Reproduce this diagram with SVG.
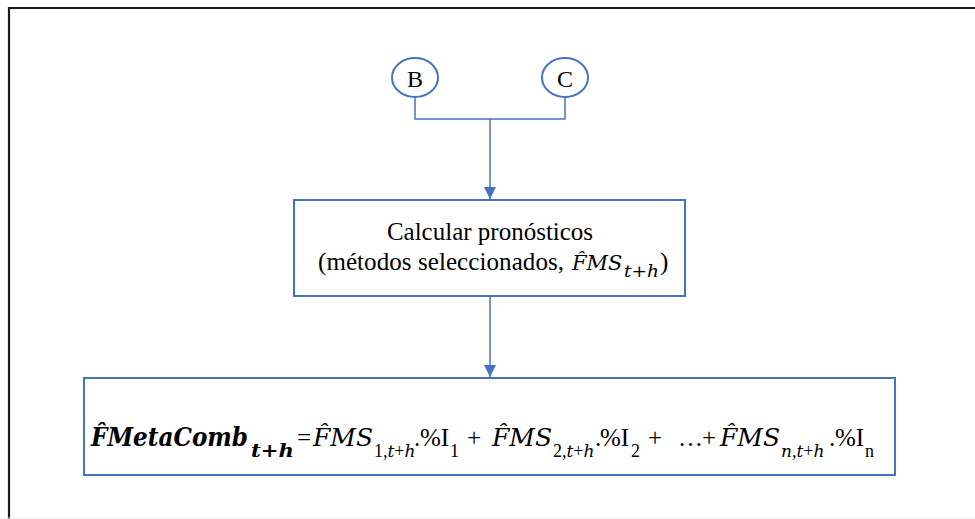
<svg xmlns="http://www.w3.org/2000/svg" width="975" height="519" viewBox="0 0 975 519">
  <defs>
    <marker id="arrow" viewBox="0 0 12 12" refX="12" refY="6" markerWidth="12" markerHeight="12" markerUnits="userSpaceOnUse" orient="auto">
      <path d="M0,0 L12,6 L0,12 Z" fill="#4472C4"/>
    </marker>
  </defs>
  <style>
    .node { fill: #ffffff; stroke: #4472C4; stroke-width: 2; }
    .conn { fill: none; stroke: #4472C4; stroke-width: 1.5; }
    .serif { font-family: "Liberation Serif", "Times New Roman", serif; fill: #000; }
    .math { font-family: "DejaVu Serif", "Liberation Serif", serif; font-style: italic; }
    .up { font-family: "Liberation Serif", "Times New Roman", serif; font-style: normal; }
    .bi { font-family: "DejaVu Serif", "Liberation Serif", serif; font-style: italic; font-weight: bold; }
  </style>

  <rect width="975" height="519" fill="#ffffff"/>
  <!-- outer frame -->
  <path d="M9,519 V8 H975" fill="none" stroke="#1a1a1a" stroke-width="2.2"/>
  <line x1="0" y1="518" x2="975" y2="518" stroke="#eeeeee" stroke-width="1"/>

  <!-- connectors -->
  <g id="connectors">
    <path class="conn" d="M415,97 V119 H565 V97"/>
    <line class="conn" x1="490" y1="119" x2="490" y2="199" marker-end="url(#arrow)"/>
    <line class="conn" x1="490" y1="296" x2="490" y2="377" marker-end="url(#arrow)"/>
  </g>

  <!-- connector B -->
  <g id="node-B">
    <ellipse class="node" cx="415" cy="77.5" rx="23" ry="19.5"/>
    <text class="serif" x="415" y="87" font-size="24" text-anchor="middle">B</text>
  </g>

  <!-- connector C -->
  <g id="node-C">
    <ellipse class="node" cx="565" cy="77.5" rx="23" ry="19.5"/>
    <text class="serif" x="565" y="87" font-size="24" text-anchor="middle">C</text>
  </g>

  <!-- forecast step -->
  <g id="node-calcular">
    <rect class="node" x="294" y="200" width="391" height="96"/>
    <text class="serif" x="490" y="240" font-size="25" text-anchor="middle">Calcular pronósticos</text>
    <text class="serif" font-size="25"><tspan x="318" y="270" textLength="246" lengthAdjust="spacing">(métodos seleccionados,</tspan><tspan class="math" x="572" y="270" font-size="21">F̂MS</tspan><tspan class="math" x="624" y="277" font-size="16" textLength="35" lengthAdjust="spacingAndGlyphs">t+h</tspan><tspan x="660" y="270">)</tspan></text>
  </g>

  <!-- combination formula -->
  <g id="node-metacomb">
    <rect class="node" x="84" y="378" width="811" height="97"/>
    <text class="serif" font-size="25"><tspan class="bi" x="91" y="446" font-size="26" textLength="157" lengthAdjust="spacingAndGlyphs">F̂MetaComb</tspan><tspan class="bi" x="251" y="457" font-size="19" textLength="43" lengthAdjust="spacingAndGlyphs">t+h</tspan><tspan x="297" y="446">=</tspan><tspan class="math" x="313" y="446">F̂MS</tspan><tspan class="up" x="374" y="457" font-size="18">1,</tspan><tspan class="math" font-size="17">t</tspan><tspan class="up" font-size="18">+</tspan><tspan class="math" font-size="17">h</tspan><tspan x="414" y="446">.</tspan><tspan x="420" y="446">%I</tspan><tspan x="450" y="457" font-size="18">1</tspan><tspan x="467" y="446">+</tspan><tspan class="math" x="492" y="446">F̂MS</tspan><tspan class="up" x="553" y="457" font-size="18">2,</tspan><tspan class="math" font-size="17">t</tspan><tspan class="up" font-size="18">+</tspan><tspan class="math" font-size="17">h</tspan><tspan x="595" y="446">.</tspan><tspan x="600" y="446">%I</tspan><tspan x="631" y="457" font-size="18">2</tspan><tspan x="648" y="446">+</tspan><tspan x="678" y="446">…</tspan><tspan x="702" y="446">+</tspan><tspan class="math" x="720" y="446">F̂MS</tspan><tspan class="math" x="781" y="457" font-size="17">n</tspan><tspan class="up" font-size="18">,</tspan><tspan class="math" font-size="17">t</tspan><tspan class="up" font-size="18">+</tspan><tspan class="math" font-size="17">h</tspan><tspan x="829" y="446">.</tspan><tspan x="835" y="446">%I</tspan><tspan x="865" y="457" font-size="18">n</tspan></text>
  </g>
</svg>
